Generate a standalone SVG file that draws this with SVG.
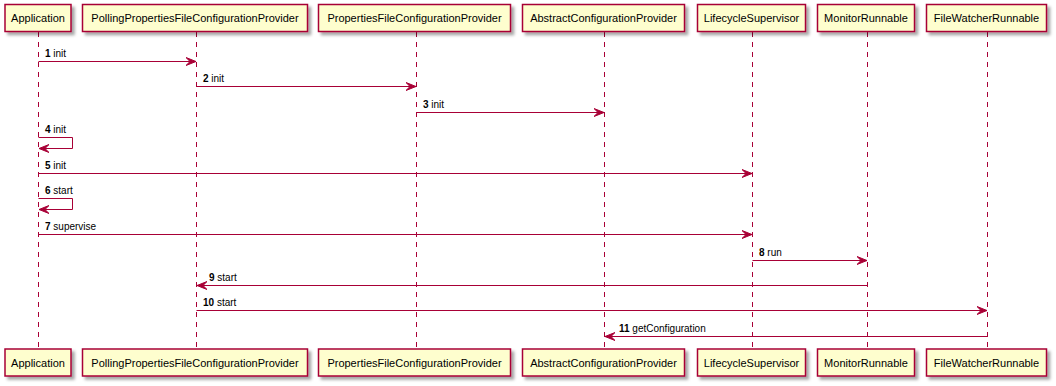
<svg xmlns="http://www.w3.org/2000/svg" width="1056" height="386" viewBox="0 0 1056 386">
  <style>
    .life { stroke: #A80036; stroke-width: 1; stroke-dasharray: 5,5; fill: none; }
    .box { fill: #FEFECE; stroke: #A80036; stroke-width: 1.5; filter: url(#shadow); }
    .name { font-family: "Liberation Sans", Arial, sans-serif; font-size: 11px; fill: #000; text-anchor: middle; }
    .msg { stroke: #A80036; stroke-width: 1; fill: none; }
    .head { fill: #A80036; stroke: #A80036; stroke-width: 1; }
    .lbl { font-family: "Liberation Sans", Arial, sans-serif; font-size: 10px; fill: #000; }
    .num { font-weight: bold; }
  </style>
  <defs>
    <filter id="shadow" x="-10%" y="-20%" width="130%" height="160%">
      <feGaussianBlur in="SourceAlpha" stdDeviation="1.5"/>
      <feOffset dx="3" dy="3" result="b"/>
      <feColorMatrix in="b" type="matrix" values="0 0 0 0 0  0 0 0 0 0  0 0 0 0 0  0 0 0 0.35 0" result="s"/>
      <feMerge><feMergeNode in="s"/><feMergeNode in="SourceGraphic"/></feMerge>
    </filter>
    <marker id="arrow" markerWidth="12" markerHeight="10" refX="10" refY="5" orient="auto" markerUnits="userSpaceOnUse">
      <path d="M0,1 L10,5 L0,9 L4,5 Z" fill="#A80036" stroke="#A80036" stroke-width="1"/>
    </marker>
  </defs>

  <!-- lifelines -->
  <g id="lifelines">
    <line class="life" x1="38.5" y1="32" x2="38.5" y2="349"/>
    <line class="life" x1="196.5" y1="32" x2="196.5" y2="349"/>
    <line class="life" x1="416.5" y1="32" x2="416.5" y2="349"/>
    <line class="life" x1="604.5" y1="32" x2="604.5" y2="349"/>
    <line class="life" x1="752.5" y1="32" x2="752.5" y2="349"/>
    <line class="life" x1="867.5" y1="32" x2="867.5" y2="349"/>
    <line class="life" x1="987.5" y1="32" x2="987.5" y2="349"/>
  </g>

  <!-- participants: head and foot boxes -->
  <g id="Application">
    <rect class="box" x="5" y="4.5" width="66" height="27"/>
    <text class="name" x="38" y="22">Application</text>
    <rect class="box" x="5" y="349" width="66" height="27"/>
    <text class="name" x="38" y="366.5">Application</text>
  </g>
  <g id="PollingPropertiesFileConfigurationProvider">
    <rect class="box" x="82.5" y="4.5" width="225" height="27"/>
    <text class="name" x="195" y="22">PollingPropertiesFileConfigurationProvider</text>
    <rect class="box" x="82.5" y="349" width="225" height="27"/>
    <text class="name" x="195" y="366.5">PollingPropertiesFileConfigurationProvider</text>
  </g>
  <g id="PropertiesFileConfigurationProvider">
    <rect class="box" x="318.5" y="4.5" width="192" height="27"/>
    <text class="name" x="414.5" y="22">PropertiesFileConfigurationProvider</text>
    <rect class="box" x="318.5" y="349" width="192" height="27"/>
    <text class="name" x="414.5" y="366.5">PropertiesFileConfigurationProvider</text>
  </g>
  <g id="AbstractConfigurationProvider">
    <rect class="box" x="522.5" y="4.5" width="162" height="27"/>
    <text class="name" x="603.5" y="22">AbstractConfigurationProvider</text>
    <rect class="box" x="522.5" y="349" width="162" height="27"/>
    <text class="name" x="603.5" y="366.5">AbstractConfigurationProvider</text>
  </g>
  <g id="LifecycleSupervisor">
    <rect class="box" x="697.5" y="4.5" width="108" height="27"/>
    <text class="name" x="751.5" y="22">LifecycleSupervisor</text>
    <rect class="box" x="697.5" y="349" width="108" height="27"/>
    <text class="name" x="751.5" y="366.5">LifecycleSupervisor</text>
  </g>
  <g id="MonitorRunnable">
    <rect class="box" x="817.5" y="4.5" width="97" height="27"/>
    <text class="name" x="866" y="22">MonitorRunnable</text>
    <rect class="box" x="817.5" y="349" width="97" height="27"/>
    <text class="name" x="866" y="366.5">MonitorRunnable</text>
  </g>
  <g id="FileWatcherRunnable">
    <rect class="box" x="926.5" y="4.5" width="120" height="27"/>
    <text class="name" x="986.5" y="22">FileWatcherRunnable</text>
    <rect class="box" x="926.5" y="349" width="120" height="27"/>
    <text class="name" x="986.5" y="366.5">FileWatcherRunnable</text>
  </g>

  <!-- messages -->
  <g id="connectors">
    <line class="msg" x1="38.5" y1="61.5" x2="196" y2="61.5" marker-end="url(#arrow)"/>
    <line class="msg" x1="196.5" y1="86.5" x2="416" y2="86.5" marker-end="url(#arrow)"/>
    <line class="msg" x1="416.5" y1="112.5" x2="604" y2="112.5" marker-end="url(#arrow)"/>
    <polyline class="msg" points="38.5,137.5 72.5,137.5 72.5,148.5 39,148.5" marker-end="url(#arrow)"/>
    <line class="msg" x1="38.5" y1="173.5" x2="752" y2="173.5" marker-end="url(#arrow)"/>
    <polyline class="msg" points="38.5,198.5 72.5,198.5 72.5,209.5 39,209.5" marker-end="url(#arrow)"/>
    <line class="msg" x1="38.5" y1="234.5" x2="752" y2="234.5" marker-end="url(#arrow)"/>
    <line class="msg" x1="752.5" y1="260.5" x2="867" y2="260.5" marker-end="url(#arrow)"/>
    <line class="msg" x1="867.5" y1="285.5" x2="197" y2="285.5" marker-end="url(#arrow)"/>
    <line class="msg" x1="196.5" y1="310.5" x2="987" y2="310.5" marker-end="url(#arrow)"/>
    <line class="msg" x1="987.5" y1="336.5" x2="605" y2="336.5" marker-end="url(#arrow)"/>
  </g>

  <!-- message labels -->
  <g id="labels">
    <text class="lbl" x="45" y="57"><tspan class="num">1</tspan> init</text>
    <text class="lbl" x="203" y="82"><tspan class="num">2</tspan> init</text>
    <text class="lbl" x="423" y="108"><tspan class="num">3</tspan> init</text>
    <text class="lbl" x="45" y="133"><tspan class="num">4</tspan> init</text>
    <text class="lbl" x="45" y="169"><tspan class="num">5</tspan> init</text>
    <text class="lbl" x="45" y="194"><tspan class="num">6</tspan> start</text>
    <text class="lbl" x="45" y="230"><tspan class="num">7</tspan> supervise</text>
    <text class="lbl" x="759" y="256"><tspan class="num">8</tspan> run</text>
    <text class="lbl" x="209" y="281"><tspan class="num">9</tspan> start</text>
    <text class="lbl" x="203" y="306"><tspan class="num">10</tspan> start</text>
    <text class="lbl" x="619" y="332"><tspan class="num">11</tspan> getConfiguration</text>
  </g>
</svg>
